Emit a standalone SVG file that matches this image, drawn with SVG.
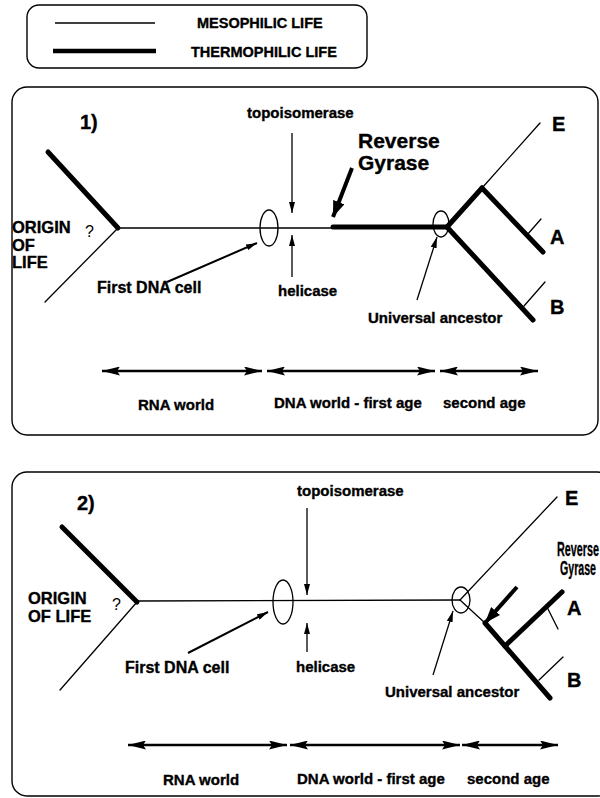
<svg xmlns="http://www.w3.org/2000/svg" width="600" height="798" viewBox="0 0 600 798">
  <style>
    .frame { fill: none; stroke: #000; stroke-width: 1.4; }
    .thin { fill: none; stroke: #000; stroke-width: 1.3; stroke-linecap: round; }
    .thick { fill: none; stroke: #000; stroke-width: 5; stroke-linecap: round; }
    .ptr { fill: none; stroke: #000; stroke-width: 1.3; marker-end: url(#tip); }
    .ptr2 { fill: none; stroke: #000; stroke-width: 2; marker-end: url(#tip); }
    .rg { fill: none; stroke: #000; stroke-width: 4; marker-end: url(#bold); }
    .span { fill: none; stroke: #000; stroke-width: 2.6; marker-start: url(#span); marker-end: url(#span); }
    .ring { fill: none; stroke: #000; stroke-width: 1.3; }
    text { font-family: "Liberation Sans", Arial, Helvetica, sans-serif; font-weight: bold; fill: #000; stroke: #000; stroke-width: 0.35; }
    .lbl { font-size: 15px; }
    .cell { font-size: 16px; }
    .leg { font-size: 14.5px; }
    .big { font-size: 16.5px; }
    .rev { font-size: 21px; }
    .tag { font-size: 20px; }
    .q { font-size: 16px; font-weight: normal; stroke-width: 0; }
  </style>
  <defs>
    <marker id="tip" viewBox="0 0 11 6" refX="11" refY="3" markerWidth="11" markerHeight="6" markerUnits="userSpaceOnUse" orient="auto-start-reverse">
      <path d="M0,0 L11,3 L0,6 z"/>
    </marker>
    <marker id="span" viewBox="0 0 18 9" refX="18" refY="4.5" markerWidth="18" markerHeight="9" markerUnits="userSpaceOnUse" orient="auto-start-reverse">
      <path d="M0,0 L18,4.5 L0,9 L3,4.5 z"/>
    </marker>
    <marker id="bold" viewBox="0 0 16 12" refX="16" refY="6" markerWidth="16" markerHeight="12" markerUnits="userSpaceOnUse" orient="auto">
      <path d="M0,0 L16,6 L0,12 z"/>
    </marker>
  </defs>

  <!-- legend -->
  <g id="legend">
    <rect class="frame" x="27" y="5" width="340" height="63" rx="12"/>
    <line x1="55" y1="23" x2="155" y2="23" stroke="#000" stroke-width="1.3"/>
    <line x1="53" y1="51" x2="156" y2="51" stroke="#000" stroke-width="4.5"/>
    <text class="leg" x="197" y="28">MESOPHILIC LIFE</text>
    <text class="leg" x="191" y="57">THERMOPHILIC LIFE</text>
  </g>

  <!-- scenario 1 -->
  <g id="panel1">
    <rect class="frame" x="12" y="87" width="586" height="348" rx="15"/>
    <text class="tag" x="80" y="129">1)</text>
  </g>
  <g id="p1-origin">
    <text class="big" x="12" y="233">ORIGIN</text>
    <text class="big" x="12" y="251">OF</text>
    <text class="big" x="12" y="268">LIFE</text>
    <text class="q" x="85" y="237">?</text>
  </g>
  <g id="p1-tree">
    <line class="thick" x1="48" y1="152" x2="118" y2="228"/>
    <line class="thin" x1="118" y1="228" x2="45" y2="302"/>
    <line class="thin" x1="118" y1="228" x2="333" y2="228"/>
    <line class="thick" x1="333" y1="227" x2="447" y2="227"/>
    <line class="thick" x1="447" y1="227" x2="482" y2="188"/>
    <line class="thin" x1="482" y1="188" x2="540" y2="123"/>
    <line class="thick" x1="482" y1="188" x2="543" y2="252"/>
    <line class="thin" x1="527" y1="235" x2="541" y2="219"/>
    <line class="thick" x1="447" y1="227" x2="533" y2="320"/>
    <line class="thin" x1="524" y1="306" x2="545" y2="282"/>
    <ellipse id="p1-first-cell" class="ring" cx="269" cy="228" rx="9" ry="18"/>
    <ellipse id="p1-ancestor" class="ring" cx="441" cy="224" rx="8" ry="13"/>
    <text class="tag" x="552" y="131">E</text>
    <text class="tag" x="550" y="244">A</text>
    <text class="tag" x="550" y="314">B</text>
  </g>
  <g id="p1-labels">
    <text class="lbl" x="247" y="118">topoisomerase</text>
    <text class="lbl" x="278" y="296">helicase</text>
    <text class="cell" x="97" y="293">First DNA cell</text>
    <text class="lbl" x="368" y="323">Universal ancestor</text>
    <text class="rev" x="358" y="148">Reverse</text>
    <text class="rev" x="358" y="170">Gyrase</text>
    <text class="lbl" x="138" y="410">RNA world</text>
    <text class="lbl" x="274" y="408">DNA world - first age</text>
    <text class="lbl" x="443" y="408">second age</text>
  </g>

  <!-- scenario 2 -->
  <g id="panel2">
    <rect class="frame" x="12" y="472" width="600" height="324" rx="15"/>
    <text class="tag" x="77" y="510">2)</text>
  </g>
  <g id="p2-origin">
    <text class="big" x="28" y="604">ORIGIN</text>
    <text class="big" x="28" y="622">OF LIFE</text>
    <text class="q" x="112" y="610">?</text>
  </g>
  <g id="p2-tree">
    <line class="thick" x1="62" y1="527" x2="137" y2="602"/>
    <line class="thin" x1="137" y1="602" x2="60" y2="690"/>
    <line class="thin" x1="137" y1="601" x2="460" y2="600"/>
    <line class="thin" x1="460" y1="600" x2="557" y2="497"/>
    <line class="thin" x1="460" y1="600" x2="485" y2="623"/>
    <line class="thick" x1="485" y1="623" x2="550" y2="698"/>
    <line class="thick" x1="505" y1="646" x2="562" y2="592"/>
    <line class="thin" x1="546" y1="605" x2="558" y2="629"/>
    <line class="thin" x1="539" y1="680" x2="563" y2="657"/>
    <ellipse id="p2-first-cell" class="ring" cx="283" cy="602" rx="10" ry="22"/>
    <ellipse id="p2-ancestor" class="ring" cx="461" cy="600" rx="9" ry="13"/>
    <text class="tag" x="565" y="505">E</text>
    <text class="tag" x="567" y="615">A</text>
    <text class="tag" x="567" y="687">B</text>
  </g>
  <g id="p2-labels">
    <text class="lbl" x="297" y="496">topoisomerase</text>
    <text class="lbl" x="296" y="672">helicase</text>
    <text class="cell" x="125" y="673">First DNA cell</text>
    <text class="lbl" x="385" y="697">Universal ancestor</text>
    <text class="tag" x="557" y="556" textLength="42" lengthAdjust="spacingAndGlyphs">Reverse</text>
    <text class="tag" x="560" y="575" textLength="36" lengthAdjust="spacingAndGlyphs">Gyrase</text>
    <text class="lbl" x="163" y="785">RNA world</text>
    <text class="lbl" x="297" y="784">DNA world - first age</text>
    <text class="lbl" x="467" y="784">second age</text>
  </g>

  <!-- pointers and time spans -->
  <g id="connectors">
    <line class="ptr" x1="292" y1="133" x2="292" y2="213"/>
    <line class="ptr" x1="292" y1="277" x2="292" y2="235"/>
    <line class="ptr2" x1="167" y1="282" x2="257" y2="243"/>
    <line class="ptr" x1="417" y1="300" x2="437" y2="237"/>
    <line class="rg" x1="352" y1="168" x2="333" y2="217"/>
    <line class="span" x1="102" y1="371" x2="262" y2="371"/>
    <line class="span" x1="267" y1="371" x2="435" y2="371"/>
    <line class="span" x1="440" y1="371" x2="538" y2="371"/>

    <line class="ptr" x1="307" y1="508" x2="307" y2="595"/>
    <line class="ptr" x1="307" y1="652" x2="307" y2="623"/>
    <line class="ptr2" x1="188" y1="653" x2="268" y2="612"/>
    <line class="ptr" x1="433" y1="675" x2="453" y2="611"/>
    <line class="rg" x1="517" y1="587" x2="485" y2="623"/>
    <line class="span" x1="128" y1="745" x2="287" y2="745"/>
    <line class="span" x1="290" y1="745" x2="460" y2="745"/>
    <line class="span" x1="462" y1="745" x2="558" y2="745"/>
  </g>
</svg>
